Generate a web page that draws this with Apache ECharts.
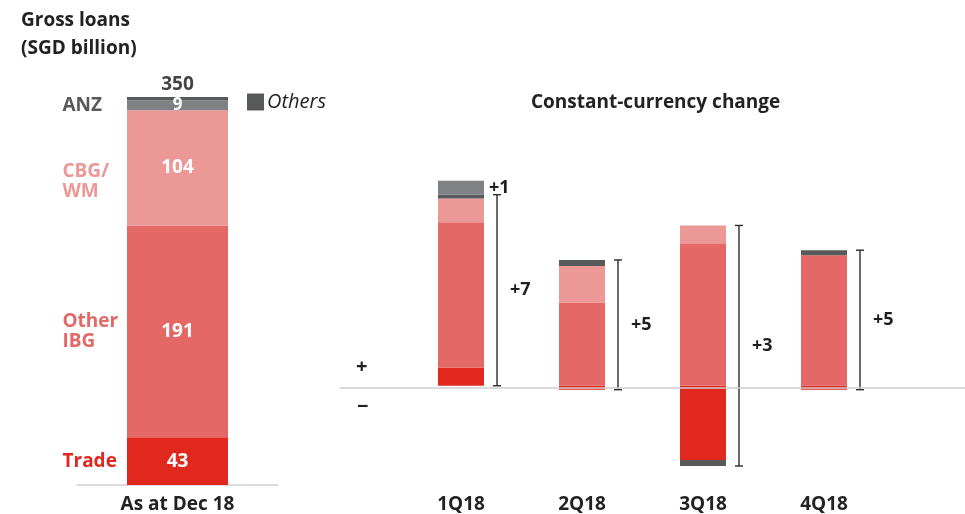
<!DOCTYPE html>
<html>
<head>
<meta charset="utf-8">
<title>Gross loans</title>
<script src="https://cdn.jsdelivr.net/npm/echarts@6/dist/echarts.min.js"></script>
<style>
  html, body { margin: 0; padding: 0; background: #fff; }
  #chart { width: 965px; height: 514px; }
</style>
</head>
<body>
<div id="chart"></div>
<script>
// left bar: gross loans as at Dec 18 (SGD billion)
const segmentNames = ['Trade', 'Other\nIBG', 'CBG/\nWM', 'ANZ', 'Others'];
const loansDec18 = [43, 191, 104, 9, 3];

// right bars: constant-currency change by quarter
const quarters = ['1Q18', '2Q18', '3Q18', '4Q18'];
const tradeChg = [0.68, -0.15, -2.82, -0.15];
const ibgChg = [5.53, 3.16, 5.41, 4.96];
const cbgChg = [0.90, 1.39, 0.68, null];
const othersChg = [0.15, 0.23, -0.23, 0.19];
const anzChg = [0.53, null, null, null];
const totalChg = [7, 5, 3, 5];

const colors = {
  trade: '#e0281e',
  ibg: '#e46866',
  cbg: '#ec9896',
  anz: '#808184',
  others: '#58595b'
};
const FONT = '"Open Sans", "Noto Sans", sans-serif';

const chart = echarts.init(document.getElementById('chart'));

const total = loansDec18.reduce((a, b) => a + b, 0);
const leftColors = [colors.trade, colors.ibg, colors.cbg, colors.anz, colors.others];
const nameColors = [colors.trade, colors.ibg, colors.cbg, '#58595b', null];

// stacked left bar
const leftSeries = loansDec18.map((v, i) => ({
  name: i === 4 ? 'Others' : segmentNames[i],
  type: 'bar',
  stack: 'dec18',
  xAxisIndex: 0,
  yAxisIndex: 0,
  barWidth: 101,
  data: [v],
  itemStyle: { color: leftColors[i] },
  label: i === 4 ? {
    show: true, position: 'top', distance: 3,
    formatter: () => String(total),
    color: '#444', fontFamily: FONT, fontWeight: 'bold', fontSize: 19
  } : {
    show: true, position: 'inside',
    color: '#fff', fontFamily: FONT, fontWeight: 'bold', fontSize: i === 3 ? 17 : 19
  }
}));

// segment names to the left of the bar
const cum = [];
loansDec18.reduce((acc, v) => { cum.push([acc, acc + v]); return acc + v; }, 0);
const nameSeries = {
  type: 'custom',
  xAxisIndex: 0,
  yAxisIndex: 0,
  silent: true,
  z: 5,
  data: cum.slice(0, 4).map((c, i) => [0, c[0], c[1], i]),
  renderItem: (params, api) => {
    const i = api.value(3);
    const p = api.coord([0, (api.value(1) + api.value(2)) / 2]);
    return {
      type: 'text',
      style: {
        text: segmentNames[i],
        x: p[0] - 115,
        y: p[1] + (i === 2 ? 14 : 0),
        align: 'left',
        verticalAlign: 'middle',
        fill: nameColors[i],
        font: 'bold 19px ' + FONT,
        lineHeight: 20
      }
    };
  }
};

function qBar(name, values, color, extra) {
  return Object.assign({
    name: name,
    type: 'bar',
    stack: 'chg',
    xAxisIndex: 1,
    yAxisIndex: 1,
    barWidth: 46,
    data: values,
    itemStyle: { color: color }
  }, extra || {});
}

// brackets: span of the quarter's bar excluding ANZ
const brackets = quarters.map((q, i) => {
  const parts = [tradeChg[i], ibgChg[i], cbgChg[i], othersChg[i]].map(v => v || 0);
  const high = parts.filter(v => v > 0).reduce((a, b) => a + b, 0);
  const low = parts.filter(v => v < 0).reduce((a, b) => a + b, 0);
  return [i, low, high, totalChg[i]];
});

const bracketSeries = {
  type: 'custom',
  xAxisIndex: 1,
  yAxisIndex: 1,
  silent: true,
  z: 4,
  encode: { x: 0, y: [1, 2] },
  data: brackets,
  renderItem: (params, api) => {
    const p1 = api.coord([api.value(0), api.value(1)]);
    const p2 = api.coord([api.value(0), api.value(2)]);
    const x = p1[0] + 36;
    const ls = { stroke: '#2b2b2b', lineWidth: 1.4 };
    return {
      type: 'group',
      children: [
        { type: 'line', shape: { x1: x, y1: p1[1], x2: x, y2: p2[1] }, style: ls },
        { type: 'line', shape: { x1: x - 4, y1: p1[1], x2: x + 4, y2: p1[1] }, style: ls },
        { type: 'line', shape: { x1: x - 4, y1: p2[1], x2: x + 4, y2: p2[1] }, style: ls },
        {
          type: 'text',
          style: {
            text: '+' + api.value(3),
            x: x + 13,
            y: (p1[1] + p2[1]) / 2,
            verticalAlign: 'middle',
            fill: '#1e1e1e',
            font: 'bold 18px ' + FONT
          }
        }
      ]
    };
  }
};

const option = {
  animation: false,
  textStyle: { fontFamily: FONT },
  title: [
    {
      text: 'Gross loans\n(SGD billion)',
      left: 16, top: 2,
      textStyle: { fontFamily: FONT, fontWeight: 'bold', fontSize: 19, color: '#222', lineHeight: 28 }
    },
    {
      text: 'Constant-currency change',
      left: 526, top: 88,
      textStyle: { fontFamily: FONT, fontWeight: 'bold', fontSize: 19, color: '#222' }
    }
  ],
  legend: {
    data: ['Others'],
    left: 247, top: 92,
    padding: 0,
    icon: 'rect',
    itemWidth: 17, itemHeight: 17, itemGap: 6,
    selectedMode: false,
    textStyle: { fontFamily: FONT, fontStyle: 'italic', fontSize: 20, color: '#222', padding: [0, 0, 0, -2] }
  },
  graphic: [
    { type: 'text', left: 356, top: 357, style: { text: '+', font: 'bold 20px ' + FONT, fill: '#222' } },
    { type: 'text', left: 357, top: 397, style: { text: '−', font: 'bold 20px ' + FONT, fill: '#222' } }
  ],
  grid: [
    { left: 77, right: 687, top: 97, bottom: 28 },
    { left: 400.5, right: 80.5, top: 175.2, bottom: 19.6 },
    { left: 340, right: 0, top: 175.2, bottom: 19.6 }
  ],
  xAxis: [
    {
      type: 'category', gridIndex: 0, data: ['As at Dec 18'],
      axisLine: { lineStyle: { color: '#cfcfcf', width: 1.5 } },
      axisTick: { show: false },
      axisLabel: { margin: 10, color: '#222', fontFamily: FONT, fontWeight: 'bold', fontSize: 19 }
    },
    {
      type: 'category', gridIndex: 1, data: quarters,
      axisLine: { show: false, onZero: false },
      axisTick: { show: false },
      axisLabel: { margin: 4, color: '#222', fontFamily: FONT, fontWeight: 'bold', fontSize: 19 }
    },
    {
      // zero line across the right panel
      type: 'value', gridIndex: 2, min: 0, max: 1,
      z: 6,
      axisLine: { onZero: true, lineStyle: { color: '#cfcfcf', width: 1.5 } },
      axisTick: { show: false },
      axisLabel: { show: false },
      splitLine: { show: false }
    }
  ],
  yAxis: [
    { type: 'value', gridIndex: 0, min: 0, max: 350, show: false },
    { type: 'value', gridIndex: 1, min: -4, max: 8, show: false },
    { type: 'value', gridIndex: 2, min: -4, max: 8, show: false }
  ],
  series: [
    ...leftSeries,
    nameSeries,
    qBar('Trade', tradeChg, colors.trade),
    qBar('Other IBG', ibgChg, colors.ibg),
    qBar('CBG/WM', cbgChg, colors.cbg),
    qBar('Others', othersChg, colors.others),
    qBar('ANZ', anzChg, colors.anz, {
      label: {
        show: true, position: 'right', distance: 5,
        formatter: p => '+' + Math.round(p.value),
        color: '#1e1e1e', fontFamily: FONT, fontWeight: 'bold', fontSize: 18
      }
    }),
    bracketSeries
  ]
};

chart.setOption(option);
</script>
</body>
</html>
